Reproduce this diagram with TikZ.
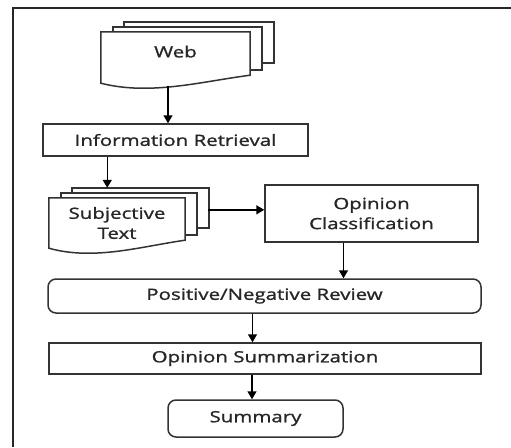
\documentclass[tikz,border=0pt]{standalone}
\usepackage{fontspec}
\setmainfont{Open Sans}[FakeStretch=1.32, FakeBold=1.3]
\usetikzlibrary{arrows.meta, positioning, calc, backgrounds}
\tikzset{
	stepbox/.style={draw=black!80, line width=1.5pt, inner sep=0pt, font=\fontsize{15.5}{20}\selectfont, align=center, text=black!85},
	roundbox/.style={stepbox, rounded corners=8pt},
	docnode/.style={inner sep=0pt, font=\fontsize{15.5}{20}\selectfont, align=center, text=black!85},
	docline/.style={draw=black!80, fill=white, line width=1.5pt},
	flowarr/.style={-{Triangle[width=9pt,length=8pt]}, line width=1.5pt},
}
% stack of three pages behind a document node
\newcommand{\docstack}[1]{%
	\begin{scope}[on background layer]
		\draw[docline] ($(#1.north west)+(23,-10)$) rectangle ($(#1.south east)+(24,-20)$);
		\draw[docline] ($(#1.north west)+(12,-5)$) rectangle ($(#1.south east)+(12,-13)$);
		\draw[docline] (#1.south west) -- (#1.north west) -- (#1.north east) -- ($(#1.south east)+(0,-8)$)
			.. controls ($(#1.south west)!0.67!(#1.south east)+(0,-1.6)$) and ($(#1.south west)!0.33!(#1.south east)+(0,12.6)$) .. (#1.south west) -- cycle;
	\end{scope}
	\coordinate (#1 back) at ($(#1.north)+(0,-10)$);
}
\begin{document}
\begin{tikzpicture}[x=1pt, y=-1pt]
	\useasboundingbox (0,0) rectangle (511,447);
	% frame
	\draw[line width=2.4pt, black!85] (13,447) -- (13,8) -- (511,8);
	% documents
	\node[docnode, minimum width=149pt, minimum height=51pt] (web) at (175.5,57.5) {Web\\[-8pt]};
	\docstack{web}
	\node[docnode, minimum width=136pt, minimum height=50pt] (subj) at (117,223) {Subjective\\Text};
	\docstack{subj}
	% process boxes
	\node[stepbox, minimum width=265pt, minimum height=32pt] (ir) at (175.5,140) {Information Retrieval};
	\node[stepbox, minimum width=213pt, minimum height=57pt] (opc) at (371.5,213.5) {Opinion\\Classification};
	\node[roundbox, minimum width=433pt, minimum height=34pt] (pn) at (264.5,296) {Positive/Negative Review};
	\node[stepbox, minimum width=432pt, minimum height=31pt] (os) at (265,358.5) {Opinion Summarization};
	\node[roundbox, minimum width=175pt, minimum height=37pt] (sum) at (255.5,418.5) {Summary};
	% arrow start points
	\coordinate (webout) at ($(web.south)+(-7.5,3)$);
	\coordinate (irout) at ($(ir.south west)+(65,0)$);
	\coordinate (subjout) at ($(subj.north east)+(23,12)$);
	\coordinate (opcout) at ($(opc.south)+(-28,0)$);
	\coordinate (pnout) at ($(pn.south)+(-12,0)$);
	\coordinate (osout) at ($(os.south)+(-13,0)$);
	% arrows
	\draw[flowarr] (webout) -- (webout |- ir.north);
	\draw[flowarr] (irout) -- (irout |- subj back);
	\draw[flowarr] (subjout) -- (subjout -| opc.west);
	\draw[flowarr] (opcout) -- (opcout |- pn.north);
	\draw[flowarr] (pnout) -- (pnout |- os.north);
	\draw[flowarr] (osout) -- (osout |- sum.north);
\end{tikzpicture}
\end{document}
